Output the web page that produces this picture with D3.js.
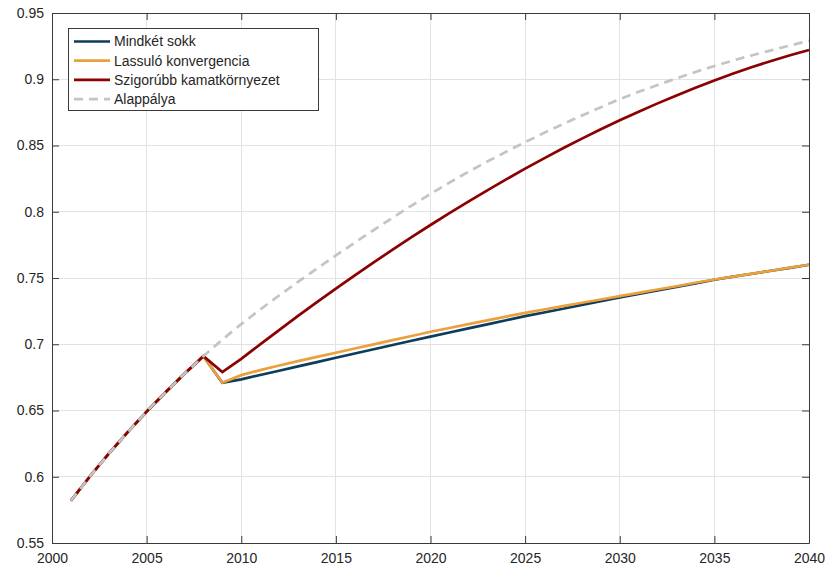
<!DOCTYPE html>
<html lang="hu">
<head>
<meta charset="UTF-8">
<title>Forgatókönyvek</title>
<script src="https://d3js.org/d3.v7.min.js"></script>
<style>
  body { margin: 0; background: #fff; }
  text { font-family: "Liberation Sans", Arial, sans-serif; fill: #262626; }
</style>
</head>
<body>
<svg id="chart" width="827" height="568"></svg>
<script>
// years 2001..2040
const years = d3.range(2001, 2041);

// common history 2001-2008
const history = [0.5820, 0.6002, 0.6174, 0.6337, 0.6492, 0.6638, 0.6777, 0.6910];

// 2009..2040
const mindketSokk = history.concat([
  0.6710, 0.6735, 0.6768, 0.6800, 0.6833, 0.6865, 0.6898, 0.6930, 0.6962, 0.6994,
  0.7026, 0.7058, 0.7089, 0.7120, 0.7150, 0.7181, 0.7212, 0.7240, 0.7268, 0.7297,
  0.7325, 0.7353, 0.7380, 0.7407, 0.7433, 0.7460, 0.7487, 0.7510, 0.7532, 0.7555,
  0.7577, 0.7600]);

const lassulo = history.concat([
  0.6710, 0.6767, 0.6805, 0.6840, 0.6873, 0.6905, 0.6936, 0.6968, 0.6999, 0.7031,
  0.7062, 0.7094, 0.7123, 0.7152, 0.7180, 0.7209, 0.7237, 0.7262, 0.7288, 0.7313,
  0.7338, 0.7363, 0.7388, 0.7413, 0.7438, 0.7464, 0.7489, 0.7511, 0.7533, 0.7555,
  0.7578, 0.7600]);

const szigorubb = history.concat([
  0.6790, 0.6890, 0.6999, 0.7107, 0.7214, 0.7318, 0.7420, 0.7520, 0.7618, 0.7714,
  0.7808, 0.7900, 0.7989, 0.8076, 0.8161, 0.8244, 0.8325, 0.8403, 0.8479, 0.8552,
  0.8622, 0.8690, 0.8755, 0.8818, 0.8878, 0.8936, 0.8991, 0.9043, 0.9092, 0.9138,
  0.9181, 0.9221]);

const alappalya = history.concat([
  0.7035, 0.7152, 0.7262, 0.7368, 0.7471, 0.7571, 0.7670, 0.7767, 0.7862, 0.7955,
  0.8046, 0.8135, 0.8220, 0.8301, 0.8379, 0.8453, 0.8525, 0.8595, 0.8662, 0.8726,
  0.8789, 0.8850, 0.8905, 0.8957, 0.9007, 0.9055, 0.9100, 0.9142, 0.9181, 0.9218,
  0.9255, 0.9290]);

const xTicks = d3.range(2000, 2041, 5);
const yTicks = [0.55, 0.6, 0.65, 0.7, 0.75, 0.8, 0.85, 0.9, 0.95];

const series = [
  { name: "Mindkét sokk", values: mindketSokk, color: "#0d3d5c", dash: null },
  { name: "Lassuló konvergencia", values: lassulo, color: "#eba03c", dash: null },
  { name: "Szigorúbb kamatkörnyezet", values: szigorubb, color: "#8b0000", dash: null },
  { name: "Alappálya", values: alappalya, color: "#c4c4c4", dash: "9,6" }
];

const mLeft = 52, mRight = 809, mTop = 13, mBottom = 543;
const svg = d3.select("#chart");
const x = d3.scaleLinear().domain([2000, 2040]).range([mLeft, mRight]);
const y = d3.scaleLinear().domain([0.55, 0.95]).range([mBottom, mTop]);

// grid
svg.append("g").selectAll("line").data(xTicks.slice(1, -1)).join("line")
  .attr("x1", d => x(d)).attr("x2", d => x(d)).attr("y1", mTop).attr("y2", mBottom)
  .attr("stroke", "#e3e3e3").attr("stroke-width", 1).attr("shape-rendering", "crispEdges");
svg.append("g").selectAll("line").data(yTicks.slice(1, -1)).join("line")
  .attr("x1", mLeft).attr("x2", mRight).attr("y1", d => y(d)).attr("y2", d => y(d))
  .attr("stroke", "#e3e3e3").attr("stroke-width", 1).attr("shape-rendering", "crispEdges");

// lines (straight segments between yearly points)
const line = d3.line().x((d, i) => x(years[i])).y(d => y(d));
series.forEach(s => {
  svg.append("path").datum(s.values)
    .attr("d", line).attr("fill", "none")
    .attr("stroke", s.color).attr("stroke-width", 2.7)
    .attr("stroke-dasharray", s.dash);
});

// axes, ticks inward on all four sides
const tl = 7;
function styleAxis(g) {
  g.select(".domain").attr("stroke", "#3a3a3a");
  g.selectAll(".tick line").attr("stroke", "#3a3a3a");
  g.selectAll("text").attr("font-size", 14).attr("fill", "#262626")
    .attr("font-family", "'Liberation Sans', Arial, sans-serif");
}
svg.append("g").attr("transform", `translate(0,${mBottom})`)
  .call(d3.axisBottom(x).tickValues(xTicks).tickFormat(d3.format("d")).tickSizeInner(-tl).tickSizeOuter(0).tickPadding(10))
  .call(styleAxis);
svg.append("g").attr("transform", `translate(0,${mTop})`)
  .call(d3.axisTop(x).tickValues(xTicks).tickFormat("").tickSizeInner(-tl).tickSizeOuter(0))
  .call(styleAxis);
svg.append("g").attr("transform", `translate(${mLeft},0)`)
  .call(d3.axisLeft(y).tickValues(yTicks).tickFormat(d => String(+d.toFixed(2))).tickSizeInner(-tl).tickSizeOuter(0).tickPadding(8))
  .call(styleAxis);
svg.append("g").attr("transform", `translate(${mRight},0)`)
  .call(d3.axisRight(y).tickValues(yTicks).tickFormat("").tickSizeInner(-tl).tickSizeOuter(0))
  .call(styleAxis);

// legend
const lg = svg.append("g").attr("transform", "translate(68,28)");
lg.append("rect").attr("width", 250).attr("height", 82)
  .attr("fill", "#fff").attr("stroke", "#3a3a3a").attr("stroke-width", 1)
  .attr("shape-rendering", "crispEdges");
series.forEach((s, i) => {
  const yy = 13.5 + i * 19.2;
  lg.append("line").attr("x1", 6).attr("x2", 42).attr("y1", yy).attr("y2", yy)
    .attr("stroke", s.color).attr("stroke-width", 2.7).attr("stroke-dasharray", s.dash);
  lg.append("text").attr("x", 46).attr("y", yy).attr("dy", "0.35em")
    .attr("font-size", 14).text(s.name);
});
</script>
</body>
</html>
